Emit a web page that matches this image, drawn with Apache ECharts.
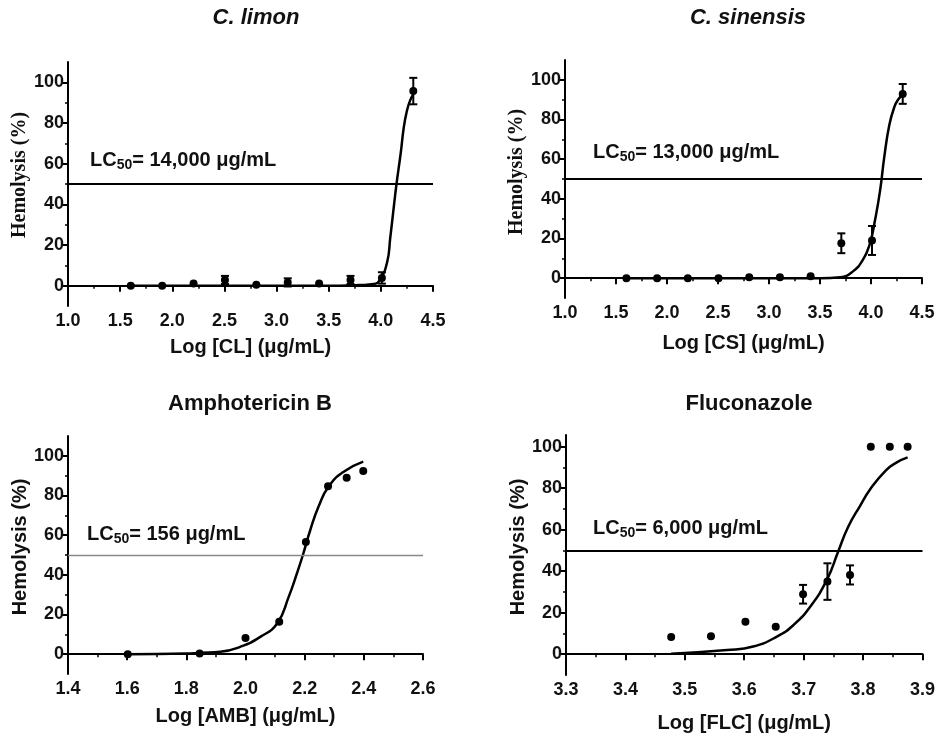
<!DOCTYPE html>
<html><head><meta charset="utf-8">
<script src="https://cdn.jsdelivr.net/npm/echarts@6/dist/echarts.min.js"></script>
<style>html,body{margin:0;padding:0;background:#fff}#c{width:938px;height:734px}</style>
</head><body><div id="c"></div>
<script>
// ---------- data ----------
const titles = ['C. limon', 'C. sinensis', 'Amphotericin B', 'Fluconazole'];
const xNames = ['Log [CL] (μg/mL)', 'Log [CS] (μg/mL)', 'Log [AMB] (μg/mL)', 'Log [FLC] (μg/mL)'];
const yName = 'Hemolysis (%)';
const lcTexts = ['14,000 μg/mL', '13,000 μg/mL', '156 μg/mL', '6,000 μg/mL'];
const lcLevel = 50;
const yTickLabels = [0, 20, 40, 60, 80, 100];
const yMinorTicks = [10, 30, 50, 70, 90];

// C. limon
const xCL = [1.602, 1.903, 2.204, 2.505, 2.806, 3.107, 3.408, 3.709, 4.010, 4.311];
const yCL = [0, 0, 1.1, 2.8, 0.5, 1.6, 1.1, 2.8, 3.8, 95.7];
const eCL = [0, 0, 0, 2, 0, 2, 0, 2, 2.8, 6.5];
const fitXCL = [1.602, 3.6, 3.8, 3.93, 3.99, 4.06, 4.09, 4.12, 4.15, 4.19, 4.22, 4.25, 4.28, 4.311];
const fitYCL = [0, 0, 0.3, 0.8, 2.8, 11.5, 23.5, 36.9, 50, 65, 77.9, 86, 91, 94];

// C. sinensis
const xCS = [1.602, 1.903, 2.204, 2.505, 2.806, 3.107, 3.408, 3.709, 4.010, 4.311];
const yCS = [0, 0, 0, 0, 0.5, 0.5, 1, 17.6, 19, 92.9];
const eCS = [0, 0, 0, 0, 0, 0, 0, 5, 7.3, 5];
const fitXCS = [1.602, 3.5, 3.7, 3.82, 3.92, 3.99, 4.04, 4.09, 4.13, 4.18, 4.23, 4.27, 4.311];
const fitYCS = [0, 0, 0.5, 3.3, 9.2, 17.6, 29.4, 44.5, 61, 77.3, 86.5, 90.3, 92.5];

// Amphotericin B
const xAMB = [1.602, 1.845, 2.000, 2.114, 2.204, 2.279, 2.342, 2.398];
const yAMB = [0, 0.3, 8.1, 16.3, 56.6, 84.7, 89, 92.4];
const eAMB = [0, 0, 0, 0, 0, 0, 0, 0];
const fitXAMB = [1.602, 1.8, 1.847, 1.915, 1.982, 2.05, 2.107, 2.146, 2.174, 2.194, 2.219, 2.247, 2.281, 2.332, 2.398];
const fitYAMB = [0, 0.3, 0.7, 1.2, 3.7, 8.7, 15.5, 28.9, 40.8, 50, 62.6, 74.4, 84.5, 92, 97.1];

// Fluconazole
const xFLC = [3.477, 3.544, 3.602, 3.653, 3.699, 3.740, 3.778, 3.813, 3.845, 3.875];
const yFLC = [8.3, 8.7, 15.6, 13.2, 28.9, 35, 38.2, 100, 100, 100];
const eFLC = [0, 0, 0, 0, 4.5, 8.8, 4.6, 0, 0, 0];
const fitXFLC = [3.477, 3.571, 3.615, 3.655, 3.683, 3.711, 3.739, 3.758, 3.775, 3.795, 3.812, 3.838, 3.856, 3.875];
const fitYFLC = [0.2, 2, 3.7, 8.5, 14.1, 22.9, 35.8, 49.4, 61.4, 71.5, 79.5, 88.5, 92.3, 94.8];

const panels = [
  {x: xCL, y: yCL, e: eCL, fx: fitXCL, fy: fitYCL, xmin: 1.0, xmax: 4.5, xint: 0.5, ymax: 110},
  {x: xCS, y: yCS, e: eCS, fx: fitXCS, fy: fitYCS, xmin: 1.0, xmax: 4.5, xint: 0.5, ymax: 110},
  {x: xAMB, y: yAMB, e: eAMB, fx: fitXAMB, fy: fitYAMB, xmin: 1.4, xmax: 2.6, xint: 0.2, ymax: 110},
  {x: xFLC, y: yFLC, e: eFLC, fx: fitXFLC, fy: fitYFLC, xmin: 3.3, xmax: 3.9, xint: 0.1, ymax: 105.6}
];

// ---------- layout / style ----------
const SANS = '"Liberation Sans", Arial, sans-serif';
const SERIF = '"Liberation Serif", "Times New Roman", serif';
const grids = [
  {left: 68, top: 62, width: 365, height: 244},
  {left: 565, top: 60, width: 357, height: 238},
  {left: 68, top: 436, width: 355, height: 238},
  {left: 566, top: 435, width: 357, height: 240}
];
const titlePos = [{x: 251, y: 2, italic: true}, {x: 743, y: 2, italic: true}, {x: 245, y: 388}, {x: 744, y: 388}];
const lcPos = [{x: 90, y: 150}, {x: 593, y: 142}, {x: 87, y: 524}, {x: 593, y: 518}];
const xNameGap = [31, 35, 32, 38];
const yNameGap = [36, 36, 38, 35];
const yNameFont = [SERIF, SERIF, SANS, SANS];
const yNameShift = [18, 14, 16, 16];
const refLine = [
  {color: '#000', width: 2}, {color: '#000', width: 2}, {color: '#888', width: 1.3}, {color: '#000', width: 2}
];

const xAxis = [], yAxis = [], series = [], title = [], graphic = [];
panels.forEach((p, i) => {
  xAxis.push({
    type: 'value', gridIndex: i, min: p.xmin, max: p.xmax, interval: p.xint,
    name: xNames[i], nameLocation: 'middle', nameGap: xNameGap[i],
    nameTextStyle: {fontFamily: SANS, fontWeight: 'bold', fontSize: 20, color: '#111'},
    axisLine: {lineStyle: {color: '#000', width: 2}},
    axisTick: {inside: false, length: 6, lineStyle: {color: '#000', width: 2}},
    minorTick: {show: true, splitNumber: 2, length: 3, lineStyle: {color: '#000', width: 1.5}},
    splitLine: {show: false},
    axisLabel: {fontFamily: SANS, fontWeight: 'bold', fontSize: 18, color: '#111', margin: 6,
      formatter: v => v.toFixed(1)}
  });
  yAxis.push({
    type: 'value', gridIndex: i, position: 'left', min: -10, max: p.ymax,
    name: yName, nameLocation: 'middle', nameGap: yNameGap[i],
    nameTextStyle: {fontFamily: yNameFont[i], fontWeight: 'bold', fontSize: 20, color: '#111',
      padding: [0, 0, 0, yNameShift[i]]},
    axisLine: {show: true, lineStyle: {color: '#000', width: 2}},
    axisTick: {show: true, length: 6, customValues: yTickLabels, lineStyle: {color: '#000', width: 2}},
    axisLabel: {customValues: yTickLabels, fontFamily: SANS, fontWeight: 'bold', fontSize: 18, color: '#111', margin: 4},
    splitLine: {show: false}
  });
  yAxis.push({
    type: 'value', gridIndex: i, position: 'left', min: -10, max: p.ymax,
    axisLine: {show: false},
    axisTick: {show: true, length: 3, customValues: yMinorTicks, lineStyle: {color: '#000', width: 1.5}},
    axisLabel: {show: false},
    splitLine: {show: false}
  });
  const yIdx = i * 2;
  series.push({
    type: 'line', xAxisIndex: i, yAxisIndex: yIdx, showSymbol: false, symbol: 'none',
    smooth: 0.5,
    lineStyle: {color: '#000', width: 2.5},
    data: p.fx.map((x, k) => [x, p.fy[k]]),
    markLine: {
      silent: true, symbol: 'none', label: {show: false},
      lineStyle: {color: refLine[i].color, width: refLine[i].width, type: 'solid'},
      data: [{yAxis: lcLevel}]
    },
    z: 3
  });
  series.push({
    type: 'custom', xAxisIndex: i, yAxisIndex: yIdx,
    data: p.x.map((x, k) => [x, p.y[k], p.e[k]]),
    renderItem: (params, api) => {
      const e = api.value(2);
      if (!e) return null;
      const x = api.value(0), y = api.value(1);
      const t = api.coord([x, y + e]), b = api.coord([x, y - e]);
      const w = 4;
      const st = {stroke: '#000', lineWidth: 2};
      return {type: 'group', children: [
        {type: 'line', shape: {x1: t[0], y1: t[1], x2: b[0], y2: b[1]}, style: st},
        {type: 'line', shape: {x1: t[0] - w, y1: t[1], x2: t[0] + w, y2: t[1]}, style: st},
        {type: 'line', shape: {x1: b[0] - w, y1: b[1], x2: b[0] + w, y2: b[1]}, style: st}
      ]};
    },
    z: 4
  });
  series.push({
    type: 'scatter', xAxisIndex: i, yAxisIndex: yIdx, symbol: 'circle', symbolSize: 8,
    itemStyle: {color: '#000', opacity: 1},
    data: p.x.map((x, k) => [x, p.y[k]]),
    z: 5
  });
  title.push({
    text: titles[i], left: titlePos[i].x, top: titlePos[i].y, textAlign: 'center',
    textStyle: {fontFamily: SANS, fontWeight: 'bold', fontStyle: titlePos[i].italic ? 'italic' : 'normal',
      fontSize: 22, color: '#111'}
  });
  graphic.push({
    type: 'text', left: lcPos[i].x, top: lcPos[i].y, z: 10,
    style: {
      text: '{a|LC}{s|50}{a|= ' + lcTexts[i] + '}',
      rich: {
        a: {fontFamily: SANS, fontWeight: 'bold', fontSize: 20, fill: '#111', color: '#111'},
        s: {fontFamily: SANS, fontWeight: 'bold', fontSize: 14, fill: '#111', color: '#111', padding: [10, 0, 0, 0]}
      }
    }
  });
});

const chart = echarts.init(document.getElementById('c'), null, {renderer: 'canvas'});
chart.setOption({
  backgroundColor: '#fff',
  animation: false,
  title, grid: grids, xAxis, yAxis, series, graphic
});
</script>
</body></html>
